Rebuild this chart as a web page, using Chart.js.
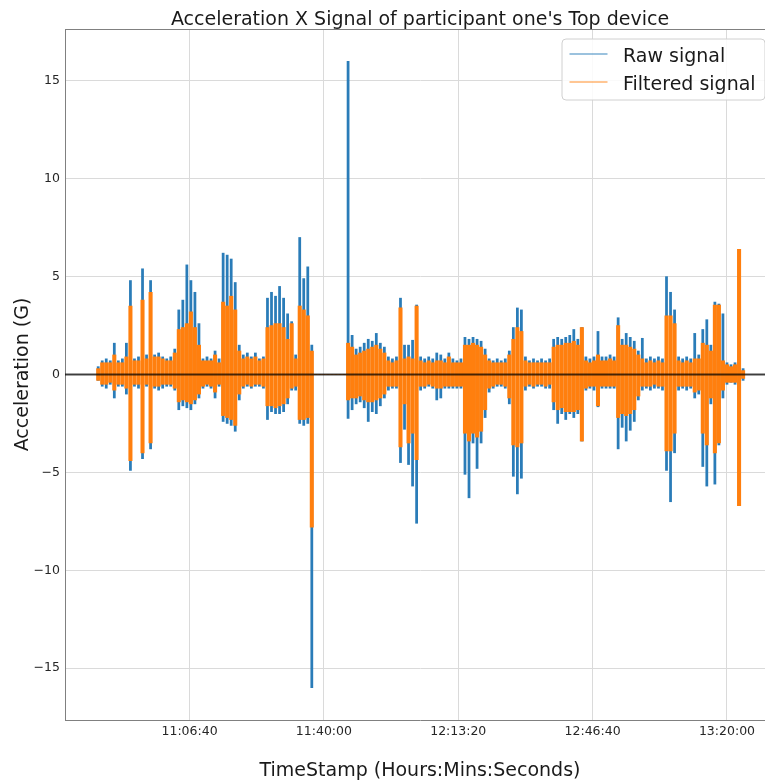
<!DOCTYPE html>
<html><head><meta charset="utf-8">
<script src="https://cdn.jsdelivr.net/npm/chart.js@4.4.1/dist/chart.umd.min.js"></script>
<style>
html,body{margin:0;padding:0;background:#fff;overflow:hidden;}
#wrap{width:765px;height:780px;overflow:hidden;position:relative;}
#inner{width:780px;height:780px;}
</style></head><body>
<div id="wrap"><div id="inner"><canvas id="c" width="780" height="780"></canvas></div></div>
<script>
const chartTitle = "Acceleration X Signal of participant one's Top device";
const xAxisTitle = "TimeStamp (Hours:Mins:Seconds)";
const yAxisTitle = "Acceleration (G)";
const seriesNames = ["Raw signal", "Filtered signal"];

// min/max envelope of each signal, one bin per minute (seconds since midnight)
const binStart = 38625;
const binSeconds = 60;

const rawHigh = [0.4,0.7,0.8,0.7,1.6,0.7,0.8,1.6,4.8,0.8,0.9,5.4,1.0,4.8,1.0,1.1,0.9,0.8,0.9,1.3,
3.3,3.8,5.6,4.8,4.2,2.6,0.8,0.9,0.8,1.2,0.8,6.2,6.1,5.9,4.7,1.5,1.0,1.1,0.9,1.1,
0.8,0.9,3.9,4.2,4.0,4.5,3.9,3.1,2.7,1.0,7.0,4.9,5.5,1.5,0,0,0,0,0,0,
0,0,16.0,2.0,1.3,1.4,1.6,1.8,1.7,2.1,1.6,1.4,0.9,0.8,0.9,3.9,1.5,1.5,1.75,3.55,
0.9,0.8,0.9,0.8,1.1,1.0,0.8,1.1,0.8,0.7,0.8,1.9,1.8,1.9,1.8,1.7,1.3,0.8,0.7,0.8,
0.7,0.8,1.2,2.4,3.4,3.3,0.9,0.7,0.8,0.7,0.8,0.7,0.8,1.8,1.9,1.8,1.9,2.0,2.3,1.8,
2.4,0.9,0.8,0.9,2.2,0.9,0.9,1.0,0.9,2.9,1.8,2.1,1.9,1.7,1.2,1.85,0.8,0.9,0.8,0.9,
0.8,5.0,4.2,3.3,0.9,0.8,0.9,0.8,2.1,1.0,2.3,2.8,1.5,3.7,3.6,3.1,0.6,0.5,0.6,1.0,0.3];
const rawLow = [-0.3,-0.6,-0.7,-0.5,-1.2,-0.6,-0.6,-1.0,-4.9,-0.6,-0.7,-4.3,-0.6,-3.8,-0.7,-0.8,-0.7,-0.6,-0.6,-0.8,
-1.8,-1.6,-1.7,-1.8,-1.5,-1.2,-0.7,-0.6,-0.7,-1.2,-0.6,-2.4,-2.5,-2.6,-2.9,-1.3,-0.7,-0.6,-0.7,-0.6,
-0.6,-0.7,-2.3,-1.9,-2.0,-2.0,-1.9,-1.5,-0.8,-0.8,-2.5,-2.6,-2.5,-16.0,0,0,0,0,0,0,
0,0,-2.25,-1.8,-1.5,-1.4,-1.7,-2.4,-1.9,-2.0,-1.6,-1.2,-0.8,-0.7,-0.7,-4.5,-2.8,-4.6,-5.7,-7.6,
-0.8,-0.7,-0.6,-0.7,-1.3,-1.2,-0.7,-0.7,-0.7,-0.7,-0.7,-5.1,-6.3,-3.5,-4.8,-3.5,-2.2,-0.9,-0.7,-0.6,
-0.6,-0.7,-1.5,-5.2,-6.1,-5.3,-0.8,-0.6,-0.7,-0.6,-0.6,-0.7,-0.7,-1.8,-2.5,-2.0,-2.3,-2.0,-2.2,-2.0,
-3.4,-0.8,-0.7,-0.8,-1.65,-0.7,-0.7,-0.7,-0.7,-3.8,-2.7,-3.4,-2.85,-2.4,-1.3,-0.8,-0.7,-0.8,-0.7,-0.7,
-0.8,-4.9,-6.5,-4.0,-0.8,-0.7,-0.8,-0.7,-1.2,-1.0,-4.7,-5.7,-1.5,-5.6,-3.6,-1.2,-0.5,-0.4,-0.5,-1.0,-0.3];
const filteredHigh = [0.3,0.6,0.6,0.6,1.0,0.6,0.6,0.9,3.5,0.7,0.7,3.8,0.8,4.2,0.9,0.9,0.8,0.7,0.7,1.1,
2.3,2.4,2.6,3.2,2.4,1.5,0.7,0.7,0.7,1.0,0.6,3.7,3.5,4.0,3.3,1.2,0.8,0.9,0.8,0.9,
0.7,0.8,2.4,2.5,2.6,2.6,2.4,1.8,2.6,0.8,3.5,3.3,3.0,1.2,0,0,0,0,0,0,
0,0,1.6,1.4,1.0,1.1,1.2,1.3,1.4,1.5,1.3,1.1,0.7,0.6,0.7,3.4,0.8,0.9,0.8,3.5,
0.7,0.6,0.7,0.6,0.7,0.7,0.6,0.9,0.6,0.6,0.6,1.5,1.5,1.6,1.5,1.4,1.0,0.7,0.6,0.6,
0.6,0.6,1.0,1.8,2.4,2.2,0.7,0.6,0.6,0.6,0.6,0.6,0.6,1.4,1.5,1.5,1.6,1.6,1.7,1.5,
2.4,0.7,0.6,0.7,1.0,0.7,0.7,0.8,0.7,2.5,1.5,1.5,1.4,1.3,1.0,0.8,0.6,0.7,0.6,0.7,
0.6,3.0,3.0,2.6,0.7,0.6,0.7,0.6,0.8,0.8,1.6,1.5,1.2,3.55,3.55,0.7,0.5,0.4,0.5,6.4,0.2];
const filteredLow = [-0.3,-0.5,-0.5,-0.4,-0.8,-0.5,-0.5,-0.7,-4.4,-0.5,-0.5,-4.0,-0.5,-3.5,-0.6,-0.6,-0.5,-0.5,-0.5,-0.7,
-1.4,-1.3,-1.4,-1.5,-1.3,-1.0,-0.6,-0.5,-0.6,-0.9,-0.5,-2.1,-2.2,-2.3,-2.6,-1.0,-0.6,-0.5,-0.6,-0.5,
-0.5,-0.6,-1.6,-1.6,-1.7,-1.6,-1.5,-1.2,-0.7,-0.6,-2.3,-2.3,-2.2,-7.8,0,0,0,0,0,0,
0,0,-1.3,-1.2,-1.2,-1.1,-1.3,-1.4,-1.4,-1.3,-1.2,-1.0,-0.6,-0.6,-0.6,-3.7,-1.5,-3.5,-3.0,-4.35,
-0.6,-0.6,-0.5,-0.6,-0.7,-0.7,-0.6,-0.6,-0.6,-0.6,-0.6,-3.0,-3.4,-3.0,-3.2,-2.9,-1.8,-0.7,-0.6,-0.5,
-0.5,-0.6,-1.2,-3.6,-3.7,-3.5,-0.6,-0.5,-0.6,-0.5,-0.5,-0.6,-0.5,-1.4,-1.8,-1.7,-1.9,-1.9,-1.9,-1.8,
-3.4,-0.7,-0.6,-0.6,-1.6,-0.6,-0.6,-0.6,-0.6,-2.2,-2.0,-2.1,-2.0,-1.8,-1.1,-0.6,-0.6,-0.6,-0.5,-0.6,
-0.6,-3.9,-3.9,-3.0,-0.6,-0.6,-0.6,-0.6,-0.9,-0.8,-3.0,-3.6,-1.2,-4.0,-3.5,-0.8,-0.4,-0.4,-0.4,-6.7,-0.2];

const xTickValues = [40000, 42000, 44000, 46000, 48000];
const xTickLabels = ["11:06:40", "11:40:00", "12:13:20", "12:46:40", "13:20:00"];
const yTickValues = [-15, -10, -5, 0, 5, 10, 15];
const yTickLabels = ["\u221215", "\u221210", "\u22125", "0", "5", "10", "15"];
const xRange = [38146, 48715];
const yRange = [-17.65, 17.65];

const FONT = "'DejaVu Sans', 'Liberation Sans', sans-serif";
const BLUE = "#1f77b4", ORANGE = "#ff7f0e";

// each bin drawn as a vertical min..max stroke
function envelopeToRanges(hi, lo) {
  return hi.map((h, i) => ({ x: binStart + i * binSeconds + binSeconds / 4, y: [lo[i], h] }));
}

const decorPlugin = {
  id: 'decor',
  afterDraw(chart) {
    const ctx = chart.ctx, a = chart.chartArea;
    ctx.save();
    ctx.strokeStyle = '#808080'; ctx.lineWidth = 1;
    ctx.beginPath();
    ctx.moveTo(a.left, a.top + 0.5); ctx.lineTo(a.right, a.top + 0.5);
    ctx.moveTo(a.right - 0.5, a.top); ctx.lineTo(a.right - 0.5, a.bottom);
    ctx.stroke();
    ctx.fillStyle = '#1a1a1a';
    ctx.font = "19px " + FONT;
    ctx.textAlign = 'center'; ctx.textBaseline = 'alphabetic';
    ctx.fillText(chartTitle, (a.left + a.right) / 2, 25);
    ctx.fillText(xAxisTitle, (a.left + a.right) / 2, 776);
    ctx.save();
    ctx.translate(28, (a.top + a.bottom) / 2);
    ctx.rotate(-Math.PI / 2);
    ctx.fillText(yAxisTitle, 0, 0);
    ctx.restore();
    const lx = 562, ly = 39, lw = 203, lh = 61, r = 4;
    ctx.beginPath();
    ctx.moveTo(lx + r, ly);
    ctx.arcTo(lx + lw, ly, lx + lw, ly + lh, r);
    ctx.arcTo(lx + lw, ly + lh, lx, ly + lh, r);
    ctx.arcTo(lx, ly + lh, lx, ly, r);
    ctx.arcTo(lx, ly, lx + lw, ly, r);
    ctx.closePath();
    ctx.fillStyle = 'rgba(255,255,255,0.85)';
    ctx.fill();
    ctx.strokeStyle = '#d0d0d0'; ctx.lineWidth = 1;
    ctx.stroke();
    const colors = ['rgba(31,119,180,0.6)', 'rgba(255,127,14,0.6)'];
    const rowsY = [54, 82];
    ctx.textAlign = 'left';
    for (let k = 0; k < 2; k++) {
      ctx.strokeStyle = colors[k]; ctx.lineWidth = 1.5;
      ctx.beginPath(); ctx.moveTo(569.5, rowsY[k]); ctx.lineTo(607.5, rowsY[k]); ctx.stroke();
      ctx.fillStyle = '#1a1a1a';
      ctx.fillText(seriesNames[k], 623, rowsY[k] + 7.8);
    }
    ctx.restore();
  }
};

new Chart(document.getElementById('c'), {
  type: 'line',
  data: {
    datasets: [
      { type: 'line', label: 'zero', data: [{x: xRange[0], y: 0}, {x: xRange[1], y: 0}],
        borderColor: 'rgba(0,0,0,0.72)', borderWidth: 1.8, order: 0, fill: false, pointRadius: 0 },
      { type: 'bar', label: seriesNames[1], data: envelopeToRanges(filteredHigh, filteredLow),
        backgroundColor: ORANGE, borderWidth: 0, barThickness: 3.4, grouped: false, order: 1 },
      { type: 'bar', label: seriesNames[0], data: envelopeToRanges(rawHigh, rawLow),
        backgroundColor: '#2a7cb8', borderWidth: 0, barThickness: 2.1, grouped: false, order: 2 }
    ]
  },
  options: {
    responsive: false, animation: false, devicePixelRatio: 1,
    layout: { padding: { top: 29, right: 5, left: 0, bottom: 0 } },
    plugins: { legend: { display: false }, title: { display: false }, tooltip: { enabled: false } },
    scales: {
      x: {
        type: 'linear', min: xRange[0], max: xRange[1], offset: false,
        afterBuildTicks: s => { s.ticks = xTickValues.map(v => ({ value: v })); },
        afterFit: s => { s.height = 60; },
        ticks: { callback: v => xTickLabels[xTickValues.indexOf(v)], font: { family: FONT, size: 12.5 },
                 color: '#262626', padding: 4, maxRotation: 0, autoSkip: false },
        grid: { color: '#dadada', lineWidth: 1, drawTicks: false, offset: false },
        border: { color: '#808080', width: 1 }
      },
      y: {
        type: 'linear', min: yRange[0], max: yRange[1],
        afterBuildTicks: s => { s.ticks = yTickValues.map(v => ({ value: v })); },
        afterFit: s => { s.width = 65; },
        ticks: { callback: v => yTickLabels[yTickValues.indexOf(v)], font: { family: FONT, size: 12.5 },
                 color: '#262626', padding: 5, autoSkip: false },
        grid: { color: '#dadada', lineWidth: 1, drawTicks: false },
        border: { color: '#808080', width: 1 }
      }
    }
  },
  plugins: [decorPlugin]
});
</script>
</body></html>
